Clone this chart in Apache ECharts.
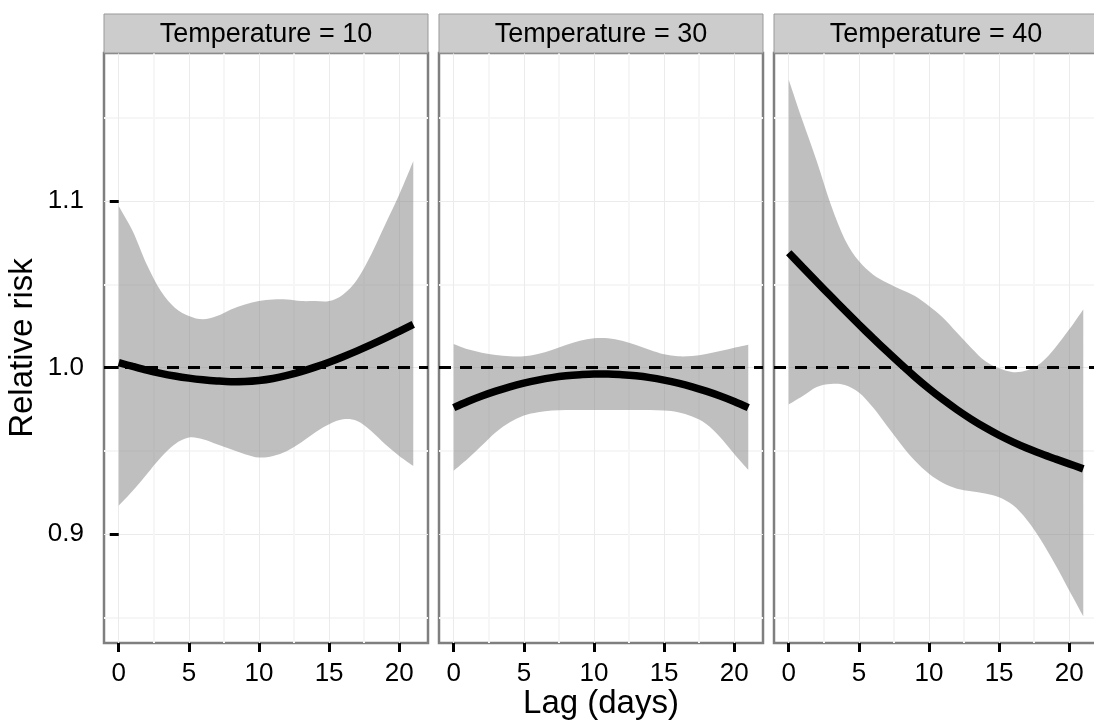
<!DOCTYPE html>
<html><head><meta charset="utf-8">
<script src="https://cdn.jsdelivr.net/npm/echarts@6/dist/echarts.min.js"></script>
<style>html,body{margin:0;padding:0;background:#fff}#c{width:1094px;height:727px}</style>
</head><body><div id="c"></div>
<script>
// ---- data ----
const lags = [0,1,2,3,4,5,6,7,8,9,10,11,12,13,14,15,16,17,18,19,20,21];
const panelTitles = ['Temperature = 10', 'Temperature = 30', 'Temperature = 40'];
const xTicks = [0, 5, 10, 15, 20];
const xMinor = [2.5, 7.5, 12.5, 17.5];
const yTicks = [0.9, 1.0, 1.1];
const yTickLabels = ['0.9', '1.0', '1.1'];
const yMinor = [0.85, 0.95, 1.05, 1.15];
const refLine = 1.0;

const fit10  = [1.003,1.0007,0.9985,0.9966,0.995,0.9937,0.9927,0.992,0.9916,0.9917,0.9923,0.9935,0.9953,0.9976,1.0003,1.0033,1.0066,1.0101,1.0138,1.0177,1.0218,1.026];
const low10  = [0.917,0.926,0.936,0.946,0.954,0.958,0.957,0.954,0.951,0.948,0.946,0.947,0.950,0.955,0.961,0.966,0.969,0.968,0.962,0.954,0.947,0.941];
const high10 = [1.097,1.082,1.062,1.046,1.036,1.031,1.029,1.031,1.035,1.038,1.040,1.041,1.041,1.040,1.040,1.040,1.044,1.053,1.068,1.086,1.104,1.124];

const fit30  = [0.976,0.9797,0.983,0.9859,0.9885,0.9907,0.9925,0.994,0.9951,0.9958,0.9962,0.9962,0.9958,0.9951,0.994,0.9925,0.9907,0.9885,0.9859,0.983,0.9797,0.976];
const low30  = [0.938,0.9452,0.9532,0.9612,0.9672,0.9712,0.9732,0.9742,0.9746,0.9746,0.9746,0.9746,0.9746,0.9746,0.9746,0.9742,0.9732,0.9706,0.9662,0.9582,0.9482,0.9386];
const high30 = [1.0142,1.011,1.009,1.0076,1.0068,1.0068,1.0082,1.0106,1.0136,1.0162,1.0176,1.0176,1.0162,1.0136,1.0106,1.008,1.0068,1.007,1.0082,1.010,1.012,1.0138];

const fit40  = [1.069,1.0602,1.0515,1.0429,1.0344,1.026,1.0178,1.0098,1.002,0.9945,0.9874,0.9808,0.9747,0.9691,0.964,0.9594,0.9553,0.9516,0.9483,0.9452,0.9422,0.9392];
const low40  = [0.9778,0.9829,0.9884,0.9902,0.9896,0.9851,0.9762,0.9651,0.954,0.944,0.9362,0.9307,0.9273,0.9258,0.9244,0.9222,0.9173,0.9084,0.8962,0.8818,0.8662,0.8507];
const high40 = [1.1729,1.148,1.124,1.098,1.077,1.064,1.056,1.051,1.047,1.043,1.037,1.030,1.021,1.012,1.004,0.9996,0.9973,0.9984,1.003,1.012,1.023,1.035];

const fits = [fit10, fit30, fit40];
const lows = [low10, low30, low40];
const highs = [high10, high30, high40];

// ---- layout ----
const X_MIN = -1.05, X_MAX = 22.05;
const Y_MIN = 0.8346, Y_MAX = 1.189;
const PANEL_LEFT0 = 104, PANEL_STEP = 335, PANEL_W = 324;
const PANEL_TOP = 53, PANEL_H = 590, STRIP_TOP = 14, STRIP_H = 39;
const FONT = '"Liberation Sans", Arial, Helvetica, sans-serif';

// Catmull-Rom spline through pixel points -> SVG path commands
function splinePath(pts, moveFirst) {
  let d = (moveFirst ? 'M' : 'L') + pts[0][0] + ' ' + pts[0][1];
  for (let k = 0; k < pts.length - 1; k++) {
    const p0 = pts[Math.max(k - 1, 0)], p1 = pts[k], p2 = pts[k + 1], p3 = pts[Math.min(k + 2, pts.length - 1)];
    const c1 = [p1[0] + (p2[0] - p0[0]) / 6, p1[1] + (p2[1] - p0[1]) / 6];
    const c2 = [p2[0] - (p3[0] - p1[0]) / 6, p2[1] - (p3[1] - p1[1]) / 6];
    d += ' C' + c1[0] + ' ' + c1[1] + ' ' + c2[0] + ' ' + c2[1] + ' ' + p2[0] + ' ' + p2[1];
  }
  return d;
}

const grids = [], xAxes = [], yAxes = [], series = [], graphics = [];
panelTitles.forEach((title, i) => {
  const left = PANEL_LEFT0 + i * PANEL_STEP;
  grids.push({ left: left, top: PANEL_TOP, width: PANEL_W, height: PANEL_H,
    show: true, borderColor: '#7f7f7f', borderWidth: 2.5, backgroundColor: 'transparent',
    containLabel: false, outerBoundsMode: 'none' });
  // minor grid axes
  xAxes.push({ gridIndex: i, type: 'value', min: X_MIN, max: X_MAX,
    axisLine: { show: false }, axisLabel: { show: false, customValues: xMinor },
    axisTick: { show: false, customValues: xMinor },
    splitLine: { show: true, lineStyle: { color: '#f6f6f6', width: 2 } } });
  yAxes.push({ gridIndex: i, type: 'value', min: Y_MIN, max: Y_MAX, position: 'left',
    axisLine: { show: false }, axisLabel: { show: false, customValues: yMinor },
    axisTick: { show: false, customValues: yMinor },
    splitLine: { show: true, lineStyle: { color: '#f6f6f6', width: 2 } } });
  // major axes
  xAxes.push({ gridIndex: i, type: 'value', min: X_MIN, max: X_MAX, position: 'bottom',
    axisLine: { show: false },
    axisTick: { show: true, customValues: xTicks, length: 9, lineStyle: { color: '#000', width: 3 } },
    axisLabel: { show: true, customValues: xTicks, margin: 18, color: '#000', fontSize: 26, fontFamily: FONT },
    splitLine: { show: true, lineStyle: { color: '#ebebeb', width: 1 } } });
  yAxes.push({ gridIndex: i, type: 'value', min: Y_MIN, max: Y_MAX, position: 'left',
    axisLine: { show: false },
    axisTick: { show: i === 0, customValues: yTicks, length: 9, lineStyle: { color: '#000', width: 3 } },
    axisLabel: { show: i === 0, customValues: yTicks, margin: 20, color: '#000', fontSize: 26, fontFamily: FONT,
      formatter: v => yTickLabels[yTicks.findIndex(t => Math.abs(t - v) < 1e-9)] },
    splitLine: { show: true, lineStyle: { color: '#ebebeb', width: 1 } } });

  const xi = 2 * i + 1, yi = 2 * i + 1;
  // confidence band: polygon through upper (left->right) and lower (right->left), via the axes' scales
  series.push({ type: 'custom', xAxisIndex: xi, yAxisIndex: yi, silent: true, z: 2,
    data: [[lags[0], lows[i][0]]],
    renderItem: (params, api) => {
      const up = lags.map((l, k) => api.coord([l, highs[i][k]]));
      const lo = lags.map((l, k) => api.coord([l, lows[i][k]])).reverse();
      const d = splinePath(up, true) + ' ' + splinePath(lo, false) + ' Z';
      return { type: 'path', shape: { pathData: d },
        style: { fill: 'rgba(127,127,127,0.5)', stroke: null } };
    } });
  series.push({ type: 'line', xAxisIndex: xi, yAxisIndex: yi, smooth: 0.35, symbol: 'none', silent: true, z: 4,
    lineStyle: { color: '#000', width: 7.5, cap: 'butt' },
    data: lags.map((l, k) => [l, fits[i][k]]),
    markLine: { silent: true, symbol: ['none', 'none'], label: { show: false }, z: 3,
      lineStyle: { color: '#000', width: 3, type: [12, 9] },
      emphasis: { disabled: true },
      data: [{ yAxis: refLine }] } });

  graphics.push({ type: 'rect', shape: { x: left, y: STRIP_TOP, width: PANEL_W, height: STRIP_H },
    style: { fill: '#cccccc', stroke: '#999999', lineWidth: 1 }, z: 10 });
  graphics.push({ type: 'text', x: left + PANEL_W / 2, y: STRIP_TOP + STRIP_H / 2 + 1,
    style: { text: title, fill: '#000', font: '27px ' + FONT, textAlign: 'center', textVerticalAlign: 'middle' }, z: 11 });
});

graphics.push({ type: 'text', x: 23, y: PANEL_TOP + PANEL_H / 2, rotation: Math.PI / 2,
  style: { text: 'Relative risk', fill: '#000', font: '33px ' + FONT, textAlign: 'center', textVerticalAlign: 'middle' } });
graphics.push({ type: 'text', x: 601, y: 704,
  style: { text: 'Lag (days)', fill: '#000', font: '33px ' + FONT, textAlign: 'center', textVerticalAlign: 'middle' } });

const chart = echarts.init(document.getElementById('c'), null, { renderer: 'canvas' });
chart.setOption({
  backgroundColor: '#ffffff',
  animation: false,
  grid: grids, xAxis: xAxes, yAxis: yAxes, series: series, graphic: graphics
});
</script></body></html>
